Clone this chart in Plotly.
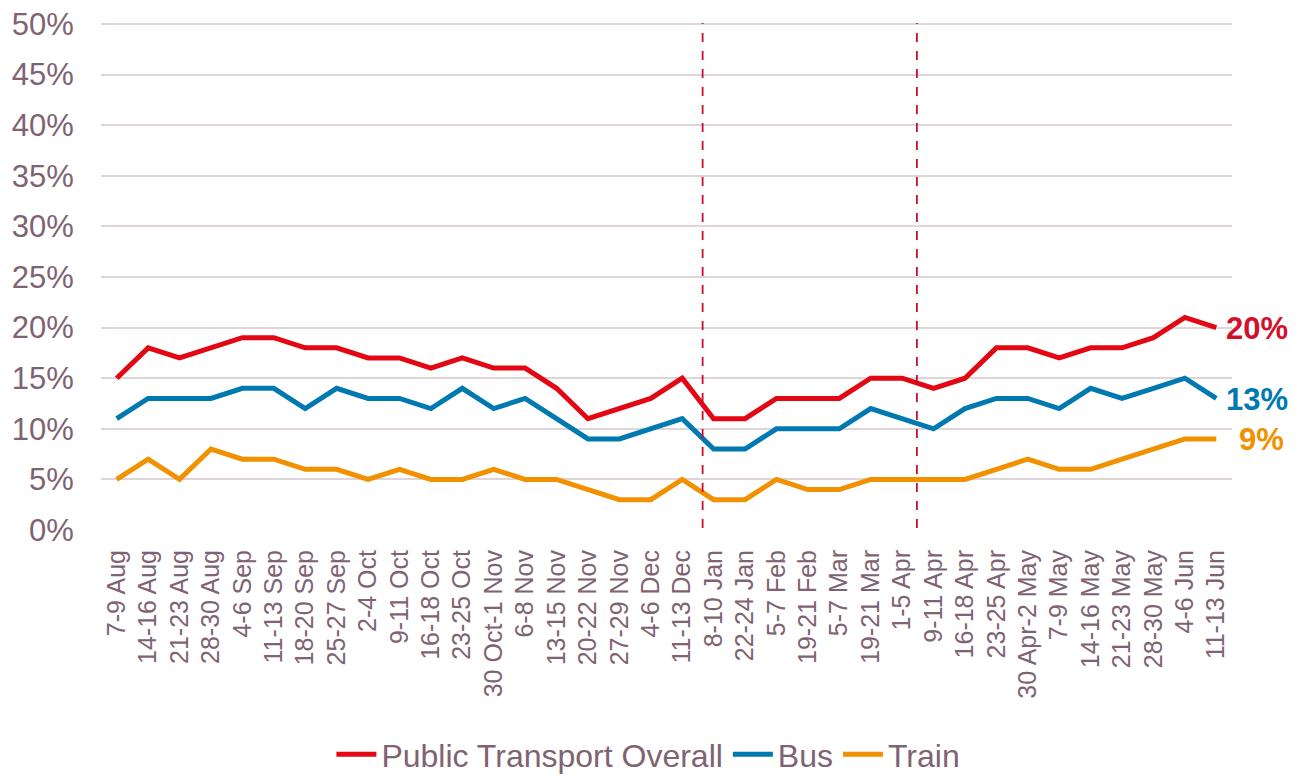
import plotly.graph_objects as go

categories = ["7-9 Aug", "14-16 Aug", "21-23 Aug", "28-30 Aug", "4-6 Sep", "11-13 Sep",
              "18-20 Sep", "25-27 Sep", "2-4 Oct", "9-11 Oct", "16-18 Oct", "23-25 Oct",
              "30 Oct-1 Nov", "6-8 Nov", "13-15 Nov", "20-22 Nov", "27-29 Nov", "4-6 Dec",
              "11-13 Dec", "8-10 Jan", "22-24 Jan", "5-7 Feb", "19-21 Feb", "5-7 Mar",
              "19-21 Mar", "1-5 Apr", "9-11 Apr", "16-18 Apr", "23-25 Apr", "30 Apr-2 May",
              "7-9 May", "14-16 May", "21-23 May", "28-30 May", "4-6 Jun", "11-13 Jun"]

overall = [15, 18, 17, 18, 19, 19, 18, 18, 17, 17, 16, 17, 16, 16, 14, 11, 12, 13,
           15, 11, 11, 13, 13, 13, 15, 15, 14, 15, 18, 18, 17, 18, 18, 19, 21, 20]
bus = [11, 13, 13, 13, 14, 14, 12, 14, 13, 13, 12, 14, 12, 13, 11, 9, 9, 10,
       11, 8, 8, 10, 10, 10, 12, 11, 10, 12, 13, 13, 12, 14, 13, 14, 15, 13]
train = [5, 7, 5, 8, 7, 7, 6, 6, 5, 6, 5, 5, 6, 5, 5, 4, 3, 3,
         5, 3, 3, 5, 4, 4, 5, 5, 5, 5, 6, 7, 6, 6, 7, 8, 9, 9]

y_ticks = [0, 5, 10, 15, 20, 25, 30, 35, 40, 45, 50]

RED = "#E30613"
BLUE = "#0079B1"
ORANGE = "#F29100"
TXT = "#7F6372"
GRID = "#DDD5D8"
FONT = "Arial, Liberation Sans, sans-serif"

x_idx = list(range(len(categories)))

fig = go.Figure()
for name, vals, col in [("Public Transport Overall", overall, RED),
                        ("Bus", bus, BLUE), ("Train", train, ORANGE)]:
    fig.add_trace(go.Scatter(x=x_idx, y=vals, mode="lines", name=name,
                             line=dict(color=col, width=5)))

# vertical dashed markers
for xv in [18.65, 25.47]:
    fig.add_shape(type="line", x0=xv, x1=xv, y0=0.2, y1=50.2, xref="x", yref="y",
                  line=dict(color="#C8102E", width=1.8, dash="dash"), layer="above")

# end labels
last = len(categories) - 1
for vals, col, xs in [(overall, "#D2102A", 8), (bus, BLUE, 8), (train, ORANGE, 21)]:
    fig.add_annotation(x=last, y=vals[-1], text=f"<b>{vals[-1]}%</b>", showarrow=False,
                       xanchor="left", yanchor="middle", xshift=xs, yshift=-1,
                       font=dict(family=FONT, size=31, color=col))

fig.update_layout(
    width=1296, height=774,
    margin=dict(l=93, r=72, t=15, b=252),
    paper_bgcolor="white", plot_bgcolor="white",
    font=dict(family=FONT, color=TXT),
    showlegend=True,
    legend=dict(orientation="h", x=0.484, xanchor="center", yref="container", y=0,
                yanchor="bottom", font=dict(family=FONT, size=32, color=TXT),
                itemwidth=40, bgcolor="rgba(0,0,0,0)", borderwidth=0),
)
fig.update_xaxes(type="linear", range=[-0.5, 35.5], tickmode="array", tickvals=x_idx,
                 ticktext=categories, tickangle=-90, tickfont=dict(size=25, color=TXT),
                 showgrid=False, zeroline=False, showline=False, automargin=False,
                 ticks="outside", ticklen=9, tickcolor="rgba(0,0,0,0)")
fig.update_yaxes(range=[0, 50.1], tickmode="array", tickvals=y_ticks,
                 ticktext=[f"{v}%" for v in y_ticks], tickfont=dict(size=31, color=TXT),
                 showgrid=True, gridcolor=GRID, gridwidth=1.5, zeroline=False,
                 showline=False, automargin=False, ticks="outside", ticklen=20,
                 tickcolor="rgba(0,0,0,0)", ticklabeloverflow="allow")

fig.write_html("out.html")
